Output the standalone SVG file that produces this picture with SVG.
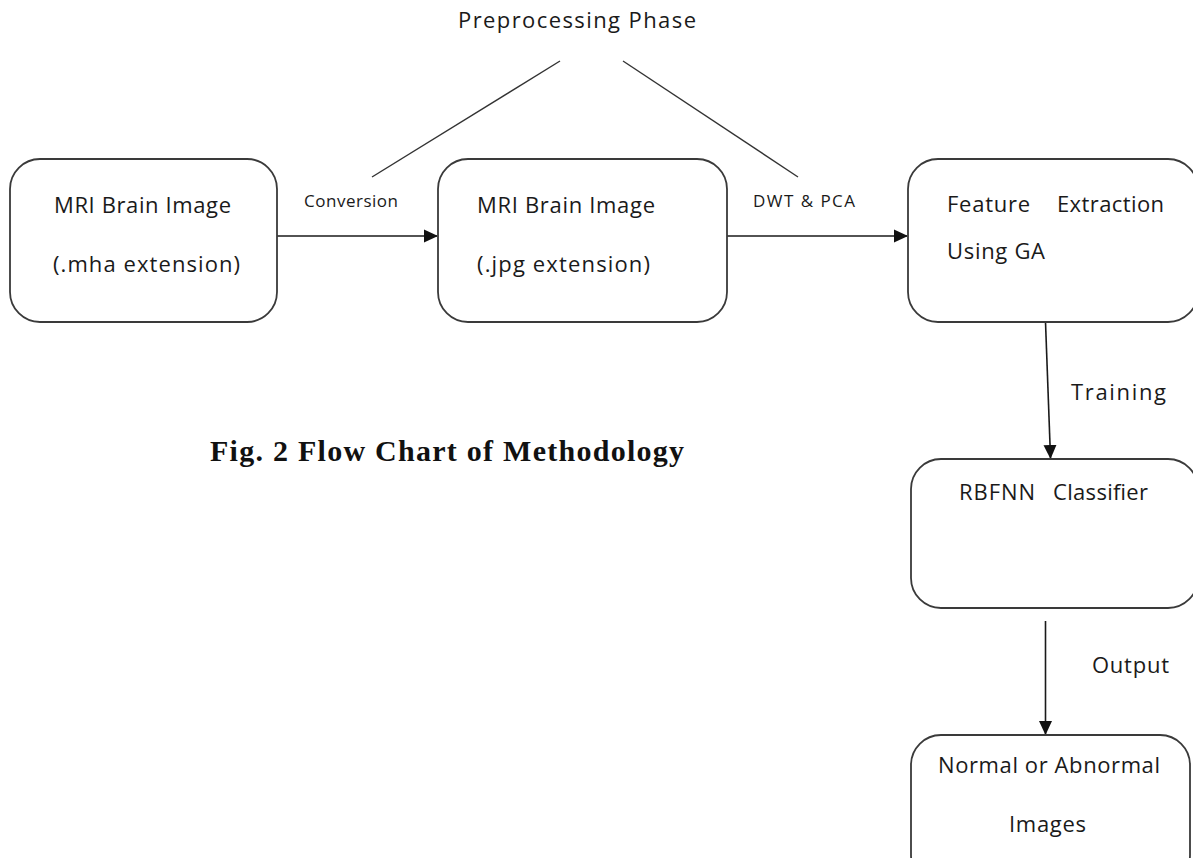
<svg xmlns="http://www.w3.org/2000/svg" width="1193" height="858" viewBox="0 0 1193 858">
<style>
.box{fill:#fff;stroke:#3a3a3a;stroke-width:1.8}
.t{font-family:"Open Sans","Liberation Sans",sans-serif;font-size:22px;fill:#1a1a1a}
.s{font-family:"Open Sans","Liberation Sans",sans-serif;font-size:17px;fill:#1a1a1a}
.c{stroke:#1a1a1a;stroke-width:1.6;fill:none}
.ln{stroke:#333;stroke-width:1.4;fill:none}
.cap{font-family:"Liberation Serif",serif;font-weight:bold;font-size:30px;fill:#111}
</style>
<defs>
<marker id="ah" markerWidth="14" markerHeight="14" refX="13" refY="7" orient="auto" markerUnits="userSpaceOnUse" viewBox="0 0 14 14">
<path d="M0,0.5 L14,7 L0,13.5 z" fill="#111"/>
</marker>
</defs>
<rect width="1193" height="858" fill="#fff"/>
<text class="t" x="577" y="28" text-anchor="middle" textLength="238">Preprocessing Phase</text>
<g id="connectors">
<line class="ln" x1="560" y1="61" x2="372" y2="177"/>
<line class="ln" x1="623" y1="61" x2="798" y2="177"/>
<line class="c" x1="277" y1="236" x2="437" y2="236" marker-end="url(#ah)"/>
<line class="c" x1="727" y1="236" x2="907" y2="236" marker-end="url(#ah)"/>
<line class="c" x1="1045.5" y1="322" x2="1050.5" y2="458" marker-end="url(#ah)"/>
<line class="c" x1="1045.5" y1="621" x2="1045.5" y2="734" marker-end="url(#ah)"/>
<text class="s" x="351" y="207" text-anchor="middle" textLength="94">Conversion</text>
<text class="s" x="804" y="207" text-anchor="middle" textLength="102">DWT &amp; PCA</text>
<text class="t" x="1071" y="400" textLength="95">Training</text>
<text class="t" x="1092" y="673" textLength="77">Output</text>
</g>
<g id="n1">
<rect class="box" x="10" y="159" width="267" height="163" rx="30"/>
<text class="t" x="54" y="213" textLength="177">MRI Brain Image</text>
<text class="t" x="53" y="272" textLength="187">(.mha extension)</text>
</g>
<g id="n2">
<rect class="box" x="438" y="159" width="289" height="163" rx="30"/>
<text class="t" x="477" y="213" textLength="178">MRI Brain Image</text>
<text class="t" x="477" y="272" textLength="173">(.jpg extension)</text>
</g>
<g id="n3">
<rect class="box" x="908" y="159" width="290" height="163" rx="30"/>
<text class="t" x="947" y="212" textLength="83">Feature</text>
<text class="t" x="1057" y="212" textLength="107">Extraction</text>
<text class="t" x="947" y="259" textLength="98">Using GA</text>
</g>
<g id="n4">
<rect class="box" x="911" y="459" width="287" height="149" rx="30"/>
<text class="t" x="959" y="500" textLength="76">RBFNN</text>
<text class="t" x="1053" y="500" textLength="95">Classifier</text>
</g>
<g id="n5">
<rect class="box" x="911" y="735" width="279" height="150" rx="30"/>
<text class="t" x="938" y="773" textLength="222">Normal or Abnormal</text>
<text class="t" x="1009" y="832" textLength="77">Images</text>
</g>
<text class="cap" x="210" y="461" textLength="474">Fig. 2 Flow Chart of Methodology</text>
</svg>
